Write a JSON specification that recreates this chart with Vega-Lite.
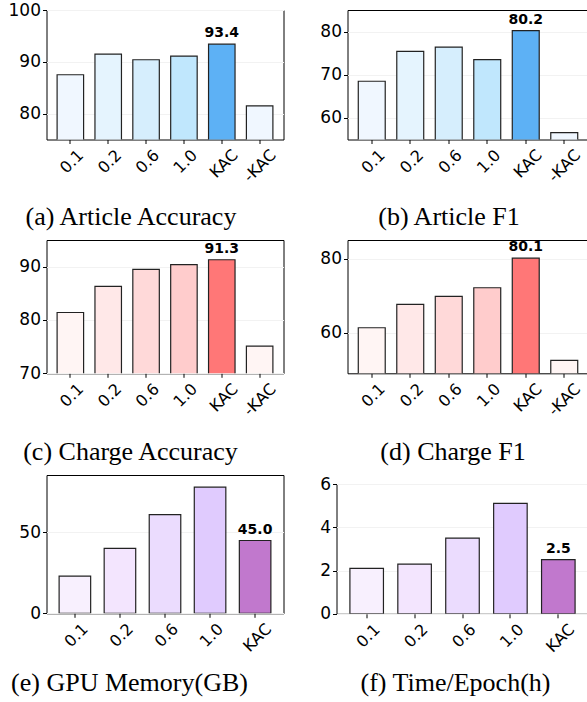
{
  "$schema": "https://vega.github.io/schema/vega-lite/v6.json",
  "padding": {"left": 7.5, "top": 0, "right": 0, "bottom": 0},
  "background": "white",
  "datasets": {
    "a": [{"k": "0.1", "v": 87.5}, {"k": "0.2", "v": 91.5}, {"k": "0.6", "v": 90.4}, {"k": "1.0", "v": 91.1}, {"k": "KAC", "v": 93.4}, {"k": "-KAC", "v": 81.5}],
    "b": [{"k": "0.1", "v": 68.5}, {"k": "0.2", "v": 75.4}, {"k": "0.6", "v": 76.4}, {"k": "1.0", "v": 73.5}, {"k": "KAC", "v": 80.2}, {"k": "-KAC", "v": 56.6}],
    "c": [{"k": "0.1", "v": 81.4}, {"k": "0.2", "v": 86.3}, {"k": "0.6", "v": 89.5}, {"k": "1.0", "v": 90.4}, {"k": "KAC", "v": 91.3}, {"k": "-KAC", "v": 75.1}],
    "d": [{"k": "0.1", "v": 61.3}, {"k": "0.2", "v": 67.6}, {"k": "0.6", "v": 69.8}, {"k": "1.0", "v": 72.1}, {"k": "KAC", "v": 80.1}, {"k": "-KAC", "v": 52.5}],
    "e": [{"k": "0.1", "v": 23.0}, {"k": "0.2", "v": 40.1}, {"k": "0.6", "v": 61.0}, {"k": "1.0", "v": 78.0}, {"k": "KAC", "v": 45.0}],
    "f": [{"k": "0.1", "v": 2.1}, {"k": "0.2", "v": 2.3}, {"k": "0.6", "v": 3.5}, {"k": "1.0", "v": 5.1}, {"k": "KAC", "v": 2.5}]
  },
  "columns": 2,
  "align": "none",
  "spacing": {"row": 8, "column": 34},
  "concat": [
    {
      "width": 237, "height": 129.5,
      "title": {"text": "(a) Article Accuracy", "orient": "bottom", "dx": -34, "offset": 19.5},
      "data": {"name": "a"},
      "layer": [
        {"mark": {"type": "bar", "stroke": "#222222", "strokeWidth": 1.2, "clip": true},
         "encoding": {
           "x": {"field": "k", "type": "nominal", "sort": ["0.1", "0.2", "0.6", "1.0", "KAC", "-KAC"], "scale": {"paddingInner": 0.3, "paddingOuter": 0.28}},
           "y": {"field": "v", "type": "quantitative", "scale": {"domain": [75, 100], "zero": false, "nice": false}, "axis": {"values": [80, 90, 100]}},
           "color": {"field": "k", "type": "nominal", "legend": null, "scale": {"domain": ["0.1", "0.2", "0.6", "1.0", "KAC", "-KAC"], "range": ["#f0f7ff", "#e5f4fe", "#d6eefd", "#c0e7fd", "#5db1f5", "#f0f7ff"]}}
         }},
        {"transform": [{"filter": "datum.k == 'KAC'"}],
         "mark": {"type": "text", "font": "DejaVu Sans", "fontWeight": "bold", "fontSize": 14, "baseline": "bottom", "dy": -4, "color": "black"},
         "encoding": {
           "x": {"field": "k", "type": "nominal", "sort": ["0.1", "0.2", "0.6", "1.0", "KAC", "-KAC"]},
           "y": {"field": "v", "type": "quantitative"},
           "text": {"field": "v", "type": "quantitative", "format": ".1f"}
         }}
      ]
    },
    {
      "width": 241, "height": 129.5,
      "title": {"text": "(b) Article F1", "orient": "bottom", "dx": -19, "offset": 19.5},
      "data": {"name": "b"},
      "layer": [
        {"mark": {"type": "bar", "stroke": "#222222", "strokeWidth": 1.2, "clip": true},
         "encoding": {
           "x": {"field": "k", "type": "nominal", "sort": ["0.1", "0.2", "0.6", "1.0", "KAC", "-KAC"], "scale": {"paddingInner": 0.3, "paddingOuter": 0.28}},
           "y": {"field": "v", "type": "quantitative", "scale": {"domain": [55, 85], "zero": false, "nice": false}, "axis": {"values": [60, 70, 80]}},
           "color": {"field": "k", "type": "nominal", "legend": null, "scale": {"domain": ["0.1", "0.2", "0.6", "1.0", "KAC", "-KAC"], "range": ["#f0f7ff", "#e5f4fe", "#d6eefd", "#c0e7fd", "#5db1f5", "#f0f7ff"]}}
         }},
        {"transform": [{"filter": "datum.k == 'KAC'"}],
         "mark": {"type": "text", "font": "DejaVu Sans", "fontWeight": "bold", "fontSize": 14, "baseline": "bottom", "dy": -4, "color": "black"},
         "encoding": {
           "x": {"field": "k", "type": "nominal", "sort": ["0.1", "0.2", "0.6", "1.0", "KAC", "-KAC"]},
           "y": {"field": "v", "type": "quantitative"},
           "text": {"field": "v", "type": "quantitative", "format": ".1f"}
         }}
      ]
    },
    {
      "width": 237, "height": 133.3,
      "title": {"text": "(c) Charge Accuracy", "orient": "bottom", "dx": -34.5, "offset": 21},
      "data": {"name": "c"},
      "layer": [
        {"mark": {"type": "bar", "stroke": "#222222", "strokeWidth": 1.2, "clip": true},
         "encoding": {
           "x": {"field": "k", "type": "nominal", "sort": ["0.1", "0.2", "0.6", "1.0", "KAC", "-KAC"], "scale": {"paddingInner": 0.3, "paddingOuter": 0.28}},
           "y": {"field": "v", "type": "quantitative", "scale": {"domain": [70, 95], "zero": false, "nice": false}, "axis": {"values": [70, 80, 90]}},
           "color": {"field": "k", "type": "nominal", "legend": null, "scale": {"domain": ["0.1", "0.2", "0.6", "1.0", "KAC", "-KAC"], "range": ["#fff5f4", "#ffe8e8", "#ffd9d9", "#ffcccc", "#ff7777", "#fff5f4"]}}
         }},
        {"transform": [{"filter": "datum.k == 'KAC'"}],
         "mark": {"type": "text", "font": "DejaVu Sans", "fontWeight": "bold", "fontSize": 14, "baseline": "bottom", "dy": -4, "color": "black"},
         "encoding": {
           "x": {"field": "k", "type": "nominal", "sort": ["0.1", "0.2", "0.6", "1.0", "KAC", "-KAC"]},
           "y": {"field": "v", "type": "quantitative"},
           "text": {"field": "v", "type": "quantitative", "format": ".1f"}
         }}
      ]
    },
    {
      "width": 241, "height": 133.3,
      "title": {"text": "(d) Charge F1", "orient": "bottom", "dx": -15, "offset": 21},
      "data": {"name": "d"},
      "layer": [
        {"mark": {"type": "bar", "stroke": "#222222", "strokeWidth": 1.2, "clip": true},
         "encoding": {
           "x": {"field": "k", "type": "nominal", "sort": ["0.1", "0.2", "0.6", "1.0", "KAC", "-KAC"], "scale": {"paddingInner": 0.3, "paddingOuter": 0.28}},
           "y": {"field": "v", "type": "quantitative", "scale": {"domain": [49, 85], "zero": false, "nice": false}, "axis": {"values": [60, 80]}},
           "color": {"field": "k", "type": "nominal", "legend": null, "scale": {"domain": ["0.1", "0.2", "0.6", "1.0", "KAC", "-KAC"], "range": ["#fff5f4", "#ffe8e8", "#ffd9d9", "#ffcccc", "#ff7777", "#fff5f4"]}}
         }},
        {"transform": [{"filter": "datum.k == 'KAC'"}],
         "mark": {"type": "text", "font": "DejaVu Sans", "fontWeight": "bold", "fontSize": 14, "baseline": "bottom", "dy": -4, "color": "black"},
         "encoding": {
           "x": {"field": "k", "type": "nominal", "sort": ["0.1", "0.2", "0.6", "1.0", "KAC", "-KAC"]},
           "y": {"field": "v", "type": "quantitative"},
           "text": {"field": "v", "type": "quantitative", "format": ".1f"}
         }}
      ]
    },
    {
      "width": 237, "height": 138.3,
      "title": {"text": "(e) GPU Memory(GB)", "orient": "bottom", "dx": -35.5, "offset": 15.5},
      "data": {"name": "e"},
      "layer": [
        {"mark": {"type": "bar", "stroke": "#222222", "strokeWidth": 1.2, "clip": true},
         "encoding": {
           "x": {"field": "k", "type": "nominal", "sort": ["0.1", "0.2", "0.6", "1.0", "KAC"], "scale": {"paddingInner": 0.3, "paddingOuter": 0.28}},
           "y": {"field": "v", "type": "quantitative", "scale": {"domain": [0, 85.5], "nice": false}, "axis": {"values": [0, 50]}},
           "color": {"field": "k", "type": "nominal", "legend": null, "scale": {"domain": ["0.1", "0.2", "0.6", "1.0", "KAC"], "range": ["#f8f0fe", "#f3e5fe", "#ebdcfe", "#e0cbfe", "#c178cd"]}}
         }},
        {"transform": [{"filter": "datum.k == 'KAC'"}],
         "mark": {"type": "text", "font": "DejaVu Sans", "fontWeight": "bold", "fontSize": 14, "baseline": "bottom", "dy": -4, "color": "black"},
         "encoding": {
           "x": {"field": "k", "type": "nominal", "sort": ["0.1", "0.2", "0.6", "1.0", "KAC"]},
           "y": {"field": "v", "type": "quantitative"},
           "text": {"field": "v", "type": "quantitative", "format": ".1f"}
         }}
      ]
    },
    {
      "width": 252, "height": 129.8,
      "title": {"text": "(f) Time/Epoch(h)", "orient": "bottom", "dx": -7, "offset": 15.5},
      "data": {"name": "f"},
      "layer": [
        {"mark": {"type": "bar", "stroke": "#222222", "strokeWidth": 1.2, "clip": true},
         "encoding": {
           "x": {"field": "k", "type": "nominal", "sort": ["0.1", "0.2", "0.6", "1.0", "KAC"], "scale": {"paddingInner": 0.3, "paddingOuter": 0.28}},
           "y": {"field": "v", "type": "quantitative", "scale": {"domain": [0, 6], "nice": false}, "axis": {"values": [0, 2, 4, 6]}},
           "color": {"field": "k", "type": "nominal", "legend": null, "scale": {"domain": ["0.1", "0.2", "0.6", "1.0", "KAC"], "range": ["#f8f0fe", "#f3e5fe", "#ebdcfe", "#e0cbfe", "#c178cd"]}}
         }},
        {"transform": [{"filter": "datum.k == 'KAC'"}],
         "mark": {"type": "text", "font": "DejaVu Sans", "fontWeight": "bold", "fontSize": 14, "baseline": "bottom", "dy": -4, "color": "black"},
         "encoding": {
           "x": {"field": "k", "type": "nominal", "sort": ["0.1", "0.2", "0.6", "1.0", "KAC"]},
           "y": {"field": "v", "type": "quantitative"},
           "text": {"field": "v", "type": "quantitative", "format": ".1f"}
         }}
      ]
    }
  ],
  "resolve": {"scale": {"x": "independent", "y": "independent", "color": "independent"}},
  "config": {
    "view": {"stroke": "black", "strokeWidth": 1},
    "axis": {"labelFont": "DejaVu Sans", "labelFontSize": 17, "labelColor": "black", "tickColor": "black", "tickSize": 4, "domain": false, "title": null, "labelPadding": 2, "gridColor": "#f2f2f2"},
    "axisX": {"grid": false, "labelAngle": -45, "labelFontSize": 16, "labelPadding": 3,
      "labelOffset": {"condition": {"test": "datum.value == '-KAC' || datum.value == 'KAC'", "value": 8}, "value": 5}},
    "axisY": {"grid": true},
    "title": {"font": "Liberation Serif", "fontSize": 26, "fontWeight": "normal", "color": "black"}
  }
}
